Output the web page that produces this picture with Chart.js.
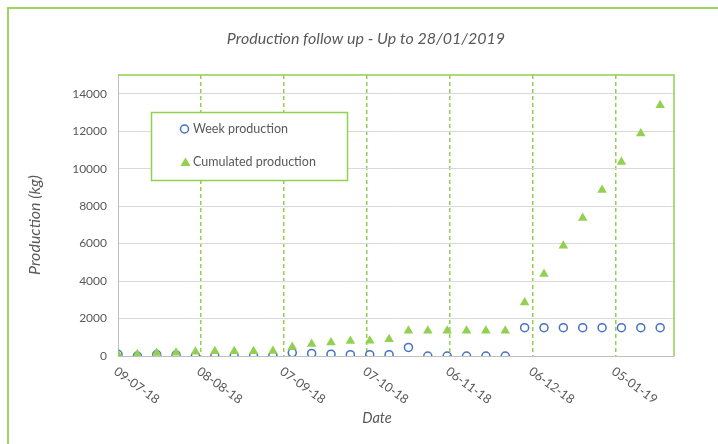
<!DOCTYPE html>
<html>
<head>
<meta charset="utf-8">
<script src="https://cdn.jsdelivr.net/npm/chart.js@4.4.1/dist/chart.umd.min.js"></script>
<style>
  html, body { margin: 0; padding: 0; background: #fff; }
  #chart { display: block; }
</style>
</head>
<body>
<canvas id="chart" width="718" height="444"></canvas>
<script>
// weekly report dates
const dates = [
    '2018-07-09', '2018-07-16', '2018-07-23', '2018-07-30', '2018-08-06', '2018-08-13',
    '2018-08-20', '2018-08-27', '2018-09-03', '2018-09-10', '2018-09-17', '2018-09-24',
    '2018-10-01', '2018-10-08', '2018-10-15', '2018-10-22', '2018-10-29', '2018-11-05',
    '2018-11-12', '2018-11-19', '2018-11-26', '2018-12-03', '2018-12-10', '2018-12-17',
    '2018-12-24', '2018-12-31', '2019-01-07', '2019-01-14', '2019-01-21'
];
const weekProduction = [
    90, 0, 80, 60, 10, 0, 0, 0, 30, 170, 140, 100, 70, 70, 70,
    460, 0, 0, 0, 0, 0, 1510, 1510, 1510, 1510, 1510, 1510, 1510, 1510
];
const cumulatedProduction = [
    90, 90, 160, 180, 230, 250, 250, 250, 270, 480, 640, 720, 800, 820, 890,
    1350, 1350, 1350, 1350, 1350, 1350, 2850, 4380, 5880, 7360, 8860, 10350, 11880, 13380
];
const yTicks = [0, 2000, 4000, 6000, 8000, 10000, 12000, 14000];
const seriesNames = ['Week production', 'Cumulated production'];
const chartTitle = 'Production follow up - Up to 28/01/2019';
const xTitle = 'Date';
const yTitle = 'Production (kg)';

const DAY = 86400000;
const startDay = Date.parse(dates[0]);
const dayOffset = d => (Date.parse(d) - startDay) / DAY;

const green = '#92D050';
const blue = '#4472C4';
const textGrey = '#595959';
const font = 'Lato, "Open Sans", sans-serif';

function fmtDate(v) {
    const d = new Date(startDay + v * DAY);
    const p = n => String(n).padStart(2, '0');
    return p(d.getUTCDate()) + '-' + p(d.getUTCMonth() + 1) + '-' + p(d.getUTCFullYear() % 100);
}

const decor = {
    id: 'decor',
    beforeDraw(chart) {
        const c = chart.ctx;
        c.save();
        c.fillStyle = '#fff';
        c.fillRect(0, 0, chart.width, chart.height);
        c.strokeStyle = '#9DD462';
        c.lineWidth = 2;
        c.strokeRect(8, 8, chart.width + 20, chart.height + 20);
        c.restore();
    },
    afterDraw(chart) {
        const c = chart.ctx;
        const a = chart.chartArea;
        const xs = chart.scales.x;
        c.save();

        // top and right frame of plot area
        c.strokeStyle = green;
        c.lineWidth = 1.5;
        c.beginPath();
        c.moveTo(a.left, a.top);
        c.lineTo(a.right, a.top);
        c.lineTo(a.right, a.bottom);
        c.stroke();

        // title
        c.fillStyle = textGrey;
        c.font = 'italic 16px ' + font;
        c.textAlign = 'center';
        c.textBaseline = 'middle';
        c.fillText(chartTitle, 366, 39);

        // rotated date labels
        c.font = '12.5px ' + font;
        c.textAlign = 'left';
        c.textBaseline = 'top';
        xs.ticks.forEach(t => {
            const px = xs.getPixelForValue(t.value);
            c.save();
            c.translate(px + 1, 365);
            c.rotate(36 * Math.PI / 180);
            c.fillText(fmtDate(t.value), 0, 0);
            c.restore();
        });

        // axis titles
        c.font = 'italic 14.5px ' + font;
        c.textAlign = 'center';
        c.textBaseline = 'middle';
        c.fillText(xTitle, 377, 418);
        c.font = 'italic 16px ' + font;
        c.save();
        c.translate(35, 225);
        c.rotate(-Math.PI / 2);
        c.fillText(yTitle, 0, 0);
        c.restore();

        // legend box
        c.fillStyle = '#fff';
        c.fillRect(151.5, 112.5, 196, 68);
        c.strokeStyle = green;
        c.lineWidth = 1.5;
        c.strokeRect(151.5, 112.5, 196, 68);

        c.strokeStyle = blue;
        c.lineWidth = 1.5;
        c.beginPath();
        c.arc(184.5, 129, 4, 0, Math.PI * 2);
        c.stroke();

        c.fillStyle = green;
        c.beginPath();
        c.moveTo(185.5, 157.5);
        c.lineTo(190.5, 166);
        c.lineTo(180.5, 166);
        c.closePath();
        c.fill();

        c.fillStyle = textGrey;
        c.font = '12.5px ' + font;
        c.textAlign = 'left';
        c.fillText(seriesNames[0], 193, 129);
        c.fillText(seriesNames[1], 193, 162);
        c.restore();
    }
};

const ctx = document.getElementById('chart').getContext('2d');
const productionChart = new Chart(ctx, {
    type: 'scatter',
    data: {
        datasets: [{
            label: seriesNames[1],
            data: dates.map((d, i) => ({ x: dayOffset(d), y: cumulatedProduction[i] })),
            pointStyle: 'triangle',
            pointRadius: 5.5,
            backgroundColor: green,
            borderColor: green,
            borderWidth: 0,
            order: 0
        }, {
            label: seriesNames[0],
            data: dates.map((d, i) => ({ x: dayOffset(d), y: weekProduction[i] })),
            pointStyle: 'circle',
            pointRadius: 4,
            backgroundColor: 'rgba(0,0,0,0)',
            borderColor: blue,
            borderWidth: 1.5,
            order: 1
        }]
    },
    options: {
        responsive: false,
        animation: false,
        devicePixelRatio: 1,
        layout: { padding: { top: 75, right: 44, bottom: 0, left: 0 } },
        plugins: {
            legend: { display: false },
            tooltip: { enabled: false }
        },
        scales: {
            x: {
                type: 'linear',
                min: 0,
                max: 201,
                afterFit: s => { s.height = 88; },
                ticks: { stepSize: 30, includeBounds: false, display: false },
                grid: {
                    drawTicks: false,
                    lineWidth: 1.5,
                    color: c => (c.tick && c.tick.value === 0) ? 'rgba(0,0,0,0)' : green
                },
                border: { color: '#BFBFBF', width: 1, dash: [4, 3] }
            },
            y: {
                min: 0,
                max: 15000,
                afterFit: s => { s.width = 118; },
                afterBuildTicks: s => { s.ticks = yTicks.map(v => ({ value: v })); },
                ticks: {
                    padding: 11,
                    color: textGrey,
                    font: { family: font, size: 12 },
                    callback: v => String(v)
                },
                grid: { drawTicks: false, color: '#D9D9D9', lineWidth: 1 },
                border: { color: '#BFBFBF', width: 1 }
            }
        }
    },
    plugins: [decor]
});
</script>
</body>
</html>
